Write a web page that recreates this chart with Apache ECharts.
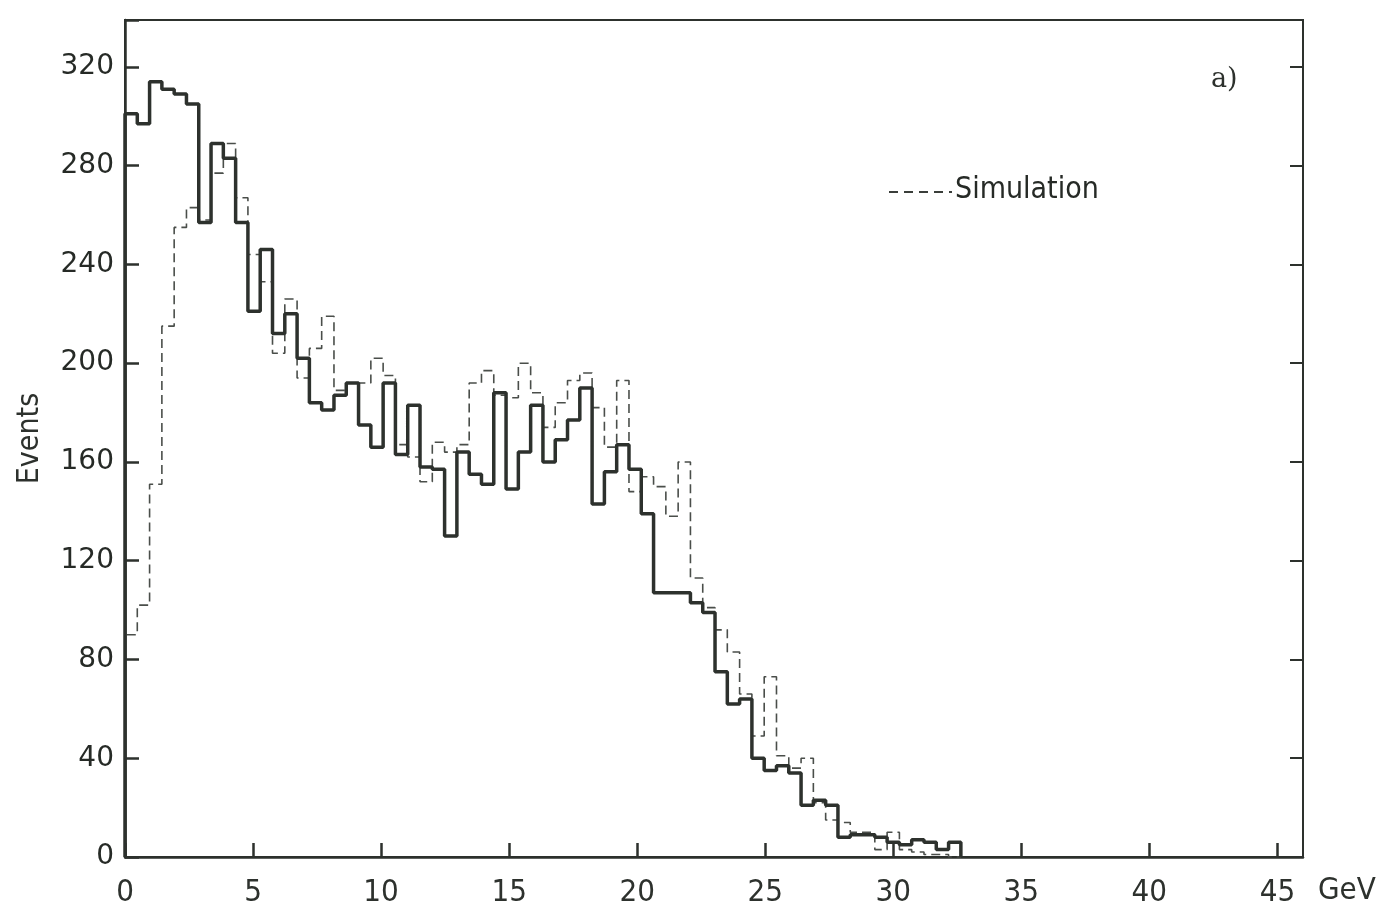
<!DOCTYPE html>
<html>
<head>
<meta charset="utf-8">
<script src="https://cdn.jsdelivr.net/npm/echarts@6/dist/echarts.min.js"></script>
<style>
html,body{margin:0;padding:0;background:#fff}
#main{width:1380px;height:914px}
</style>
</head>
<body>
<div id="main"></div>
<script>
// histogram bins, GeV
var binWidth = 0.48
// measured events per bin
var dataCounts = [301,297,314,311,309,305,257,289,283,257,
                  221,246,212,220,202,184,181,187,192,175,
                  166,192,163,183,158,157,130,164,155,151,
                  188,149,164,183,160,169,177,190,143,156,
                  167,157,139,107,107,107,103,99,75,62,
                  64,40,35,37,34,21,23,21,8,9,
                  9,8,6,5,7,6,3,6]
// simulation (dashed)
var simCounts = [90,102,151,215,255,263,258,277,289,267,
                 244,233,204,226,194,206,219,189,192,192,
                 202,195,167,162,152,168,164,167,192,197,
                 187,186,200,188,174,184,193,196,182,166,
                 193,148,154,150,138,160,113,101,92,83,
                 66,49,73,41,36,40,22,15,14,10,
                 10,3,10,3,2,1,1,0]
var xTickLabels = [0,5,10,15,20,25,30,35,40,45]
var yTickLabels = [0,40,80,120,160,200,240,280,320]

var ink = '#2d312d'
var dash = [9,5]

function steps(counts){
	var pts = [[0,0]]
	counts.forEach(function(v,i){
		pts.push([+(i*binWidth).toFixed(2), v])
	})
	var end = +(counts.length*binWidth).toFixed(2)
	pts.push([end, counts[counts.length-1]])
	pts.push([end, 0])
	return pts
}

var chart = echarts.init(document.getElementById('main'))

var option = {
	backgroundColor: '#fff',
	animation: false,
	grid: {
		left: 125, right: 77, top: 20, bottom: 57,
		show: true,
		borderColor: ink,
		borderWidth: 2
	},
	xAxis: {
		type: 'value',
		min: 0,
		max: 46,
		interval: 5,
		axisLine: { show: true, lineStyle: { color: ink, width: 2.5 } },
		axisTick: { show: true, inside: true, length: 14, lineStyle: { color: ink, width: 2.5 } },
		splitLine: { show: false },
		axisLabel: {
			margin: 20,
			fontFamily: 'DejaVu Sans Condensed',
			fontSize: 31,
			color: ink,
			showMaxLabel: false,
			formatter: function(v){ return xTickLabels.indexOf(v) >= 0 ? String(v) : '' }
		}
	},
	yAxis: [{
		type: 'value',
		min: 0,
		max: 339,
		interval: 40,
		name: 'Events',
		nameLocation: 'middle',
		nameGap: 80,
		nameRotate: 90,
		nameTextStyle: {
			fontFamily: 'DejaVu Sans Condensed',
			fontSize: 30,
			color: ink
		},
		axisLine: { show: true, lineStyle: { color: ink, width: 2.5 } },
		axisTick: { show: true, inside: true, length: 14, lineStyle: { color: ink, width: 2.5 } },
		splitLine: { show: false },
		axisLabel: {
			margin: 11,
			fontFamily: 'DejaVu Sans',
			fontWeight: 500,
			fontSize: 28,
			color: '#262a26',
			formatter: function(v){ return yTickLabels.indexOf(v) >= 0 ? String(v) : '' }
		}
	}, {
		type: 'value',
		position: 'right',
		min: 0,
		max: 339,
		interval: 40,
		axisLine: { show: false },
		axisTick: { show: true, inside: true, length: 13, lineStyle: { color: ink, width: 2 } },
		splitLine: { show: false },
		axisLabel: { show: false }
	}],
	graphic: [{
		type: 'text',
		left: 1318,
		top: 875,
		style: {
			text: 'GeV',
			font: '31px "DejaVu Sans Condensed"',
			fill: ink
		}
	}, {
		type: 'text',
		left: 1211,
		top: 66,
		style: {
			text: 'a)',
			font: '27px "DejaVu Serif"',
			fill: ink
		}
	}, {
		type: 'line',
		shape: { x1: 889, y1: 192, x2: 952, y2: 192 },
		style: { stroke: '#3a3e3a', lineWidth: 2, lineDash: [9,6] }
	}, {
		type: 'text',
		left: 955,
		top: 175,
		style: {
			text: 'Simulation',
			font: '30px "DejaVu Sans Condensed"',
			fill: '#262a26'
		}
	}],
	series: [{
		name: 'Simulation',
		type: 'line',
		step: 'end',
		symbol: 'none',
		data: steps(simCounts),
		lineStyle: { color: '#4a4e4a', width: 1.6, type: dash },
		z: 2
	}, {
		name: 'Data',
		type: 'line',
		step: 'end',
		symbol: 'none',
		data: steps(dataCounts),
		lineStyle: { color: ink, width: 3.5 },
		z: 3
	}]
}

chart.setOption(option)
</script>
</body>
</html>
